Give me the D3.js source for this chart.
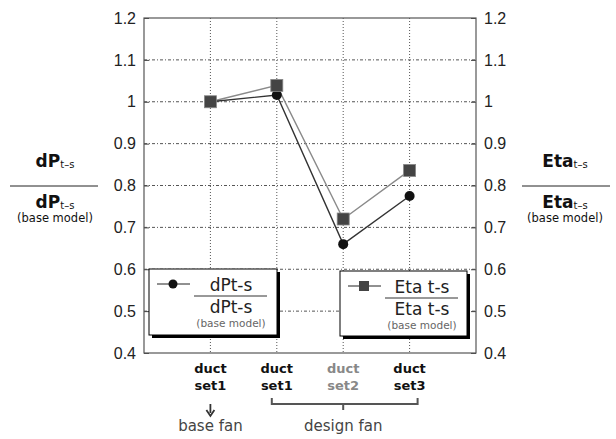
<!DOCTYPE html>
<html><head><meta charset="utf-8">
<script src="https://cdn.jsdelivr.net/npm/d3@7"></script>
<style>body{margin:0;background:#fff}svg{display:block}</style>
</head><body>
<svg id="c" width="616" height="439"></svg>
<script>
const categories = ["duct set1 (base)", "duct set1", "duct set2", "duct set3"];
const catLine1 = ["duct", "duct", "duct", "duct"];
const catLine2 = ["set1", "set1", "set2", "set3"];
const catColor = ["#111", "#111", "#888", "#111"];
const dPt = [1.0, 1.016, 0.66, 0.775];
const eta = [1.0, 1.039, 0.72, 0.836];
const yTicks = [0.4, 0.5, 0.6, 0.7, 0.8, 0.9, 1.0, 1.1, 1.2];

const svg = d3.select("#c");
const L = 144, R = 476, T = 18, B = 353;
const x = d3.scaleLinear().domain([0, 5]).range([L, R]);
const y = d3.scaleLinear().domain([0.4, 1.2]).range([B, T]);
const tickFont = "Liberation Sans, Arial, sans-serif";
const gFont = "DejaVu Sans, sans-serif";

// grid
svg.append("g").selectAll("line").data(yTicks.slice(1, -1)).join("line")
  .attr("x1", L).attr("x2", R).attr("y1", d => y(d)).attr("y2", d => y(d))
  .attr("stroke", "#555").attr("stroke-width", 1).attr("stroke-dasharray", "3,2,1,2");
svg.append("g").selectAll("line").data(categories).join("line")
  .attr("x1", (d, i) => x(i + 1)).attr("x2", (d, i) => x(i + 1)).attr("y1", T).attr("y2", B)
  .attr("stroke", "#555").attr("stroke-width", 1).attr("stroke-dasharray", "1,2");

// axes
const fmt = d => d === 1 ? "1" : d3.format(".1f")(d);
const gl = svg.append("g").attr("transform", `translate(${L},0)`).call(d3.axisLeft(y).tickValues(yTicks).tickSize(-5).tickPadding(8).tickFormat(fmt));
const gr = svg.append("g").attr("transform", `translate(${R},0)`).call(d3.axisRight(y).tickValues(yTicks).tickSize(-5).tickPadding(8).tickFormat(fmt));
[gl, gr].forEach(g => {
  g.select(".domain").remove();
  g.selectAll("line").attr("stroke", "#444");
  g.selectAll("text").attr("font-family", tickFont).attr("font-size", 16).attr("fill", "#222");
});
svg.append("rect").attr("x", L).attr("y", T).attr("width", R - L).attr("height", B - T)
  .attr("fill", "none").attr("stroke", "#555").attr("stroke-width", 1.2);

// lines
const line = d3.line().x((d, i) => x(i + 1)).y(d => y(d));
svg.append("path").datum(eta).attr("d", line).attr("fill", "none").attr("stroke", "#8a8a8a").attr("stroke-width", 1.4);
svg.append("path").datum(dPt).attr("d", line).attr("fill", "none").attr("stroke", "#333").attr("stroke-width", 1.4);
svg.append("g").selectAll("circle").data(dPt).join("circle")
  .attr("cx", (d, i) => x(i + 1)).attr("cy", d => y(d)).attr("r", 5).attr("fill", "#111");
svg.append("g").selectAll("rect").data(eta).join("rect")
  .attr("x", (d, i) => x(i + 1) - 6).attr("y", d => y(d) - 6).attr("width", 12).attr("height", 12)
  .attr("fill", "#444").attr("stroke", "#888").attr("stroke-width", 0.8);

// legends
function legend(x0, y0, w, h, marker, label) {
  const g = svg.append("g");
  g.append("rect").attr("x", x0 + 3).attr("y", y0 + 3).attr("width", w).attr("height", h).attr("fill", "#000");
  g.append("rect").attr("x", x0).attr("y", y0).attr("width", w).attr("height", h).attr("fill", "#fff").attr("stroke", "#000").attr("stroke-width", 1);
  const ly = y0 + 15;
  g.append("line").attr("x1", x0 + 8).attr("x2", x0 + 41).attr("y1", ly).attr("y2", ly).attr("stroke", "#222").attr("stroke-width", 1);
  if (marker === "circle") g.append("circle").attr("cx", x0 + 24).attr("cy", ly).attr("r", 4.5).attr("fill", "#111");
  else g.append("rect").attr("x", x0 + 19).attr("y", ly - 5).attr("width", 10).attr("height", 10).attr("fill", "#444");
  const cx = x0 + 82;
  const tf = "DejaVu Sans, sans-serif";
  g.append("text").attr("x", cx).attr("y", y0 + 22).attr("text-anchor", "middle").attr("font-family", tf).attr("font-size", 17).attr("fill", "#222").text(label);
  g.append("line").attr("x1", x0 + 45).attr("x2", x0 + 118).attr("y1", y0 + 27).attr("y2", y0 + 27).attr("stroke", "#333").attr("stroke-width", 1);
  g.append("text").attr("x", cx).attr("y", y0 + 44).attr("text-anchor", "middle").attr("font-family", tf).attr("font-size", 17).attr("fill", "#222").text(label);
  g.append("text").attr("x", cx).attr("y", y0 + 58).attr("text-anchor", "middle").attr("font-family", tf).attr("font-size", 10.5).attr("fill", "#666").text("(base model)");
}
legend(149, 269, 128, 66, "circle", "dPt-s");
legend(340, 271, 127, 65, "square", "Eta t-s");

// side labels
function sideLabel(cx, main, x1, x2, fs) {
  const g = svg.append("g").attr("font-family", gFont).attr("fill", "#111").attr("text-anchor", "middle");
  [167, 208].forEach(yy => {
    const t = g.append("text").attr("x", cx).attr("y", yy).attr("font-size", fs).attr("font-weight", "bold");
    t.append("tspan").text(main);
    t.append("tspan").attr("font-size", 10).attr("font-weight", "normal").attr("dy", 1).text("t\u2013s");
  });
  g.append("line").attr("x1", x1).attr("x2", x2).attr("y1", 186).attr("y2", 186).attr("stroke", "#222").attr("stroke-width", 1);
  g.append("text").attr("x", cx).attr("y", 222).attr("font-size", 11.5).text("(base model)");
}
sideLabel(55, "dP", 10, 98, 17);
sideLabel(565, "Eta", 522, 610, 17);

// category labels
const cg = svg.append("g").attr("font-family", gFont).attr("font-size", 13).attr("font-weight", "bold").attr("text-anchor", "middle");
cg.selectAll("text.l1").data(catLine1).join("text").attr("class", "l1")
  .attr("x", (d, i) => x(i + 1)).attr("y", 373).attr("fill", (d, i) => catColor[i]).text(d => d);
cg.selectAll("text.l2").data(catLine2).join("text").attr("class", "l2")
  .attr("x", (d, i) => x(i + 1)).attr("y", 390).attr("fill", (d, i) => catColor[i]).text(d => d);

// bracket for design fan
const bx1 = x(2) - 5, bx2 = x(4) + 8, bm = x(3);
svg.append("path").attr("d", `M${bx1},398 V404 H${bx2} V398 M${bm},404 V410`)
  .attr("fill", "none").attr("stroke", "#555").attr("stroke-width", 2);
// arrow for base fan
svg.append("line").attr("x1", x(1)).attr("x2", x(1)).attr("y1", 404).attr("y2", 413).attr("stroke", "#333").attr("stroke-width", 1.8);
svg.append("path").attr("d", `M${x(1) - 4},410 L${x(1)},416 L${x(1) + 4},410`).attr("fill", "none").attr("stroke", "#333").attr("stroke-width", 1.8);
const bg = svg.append("g").attr("font-family", gFont).attr("font-size", 15).attr("fill", "#444").attr("text-anchor", "middle");
bg.append("text").attr("x", x(1)).attr("y", 431).text("base fan");
bg.append("text").attr("x", x(3)).attr("y", 431).text("design fan");
</script>
</body></html>
